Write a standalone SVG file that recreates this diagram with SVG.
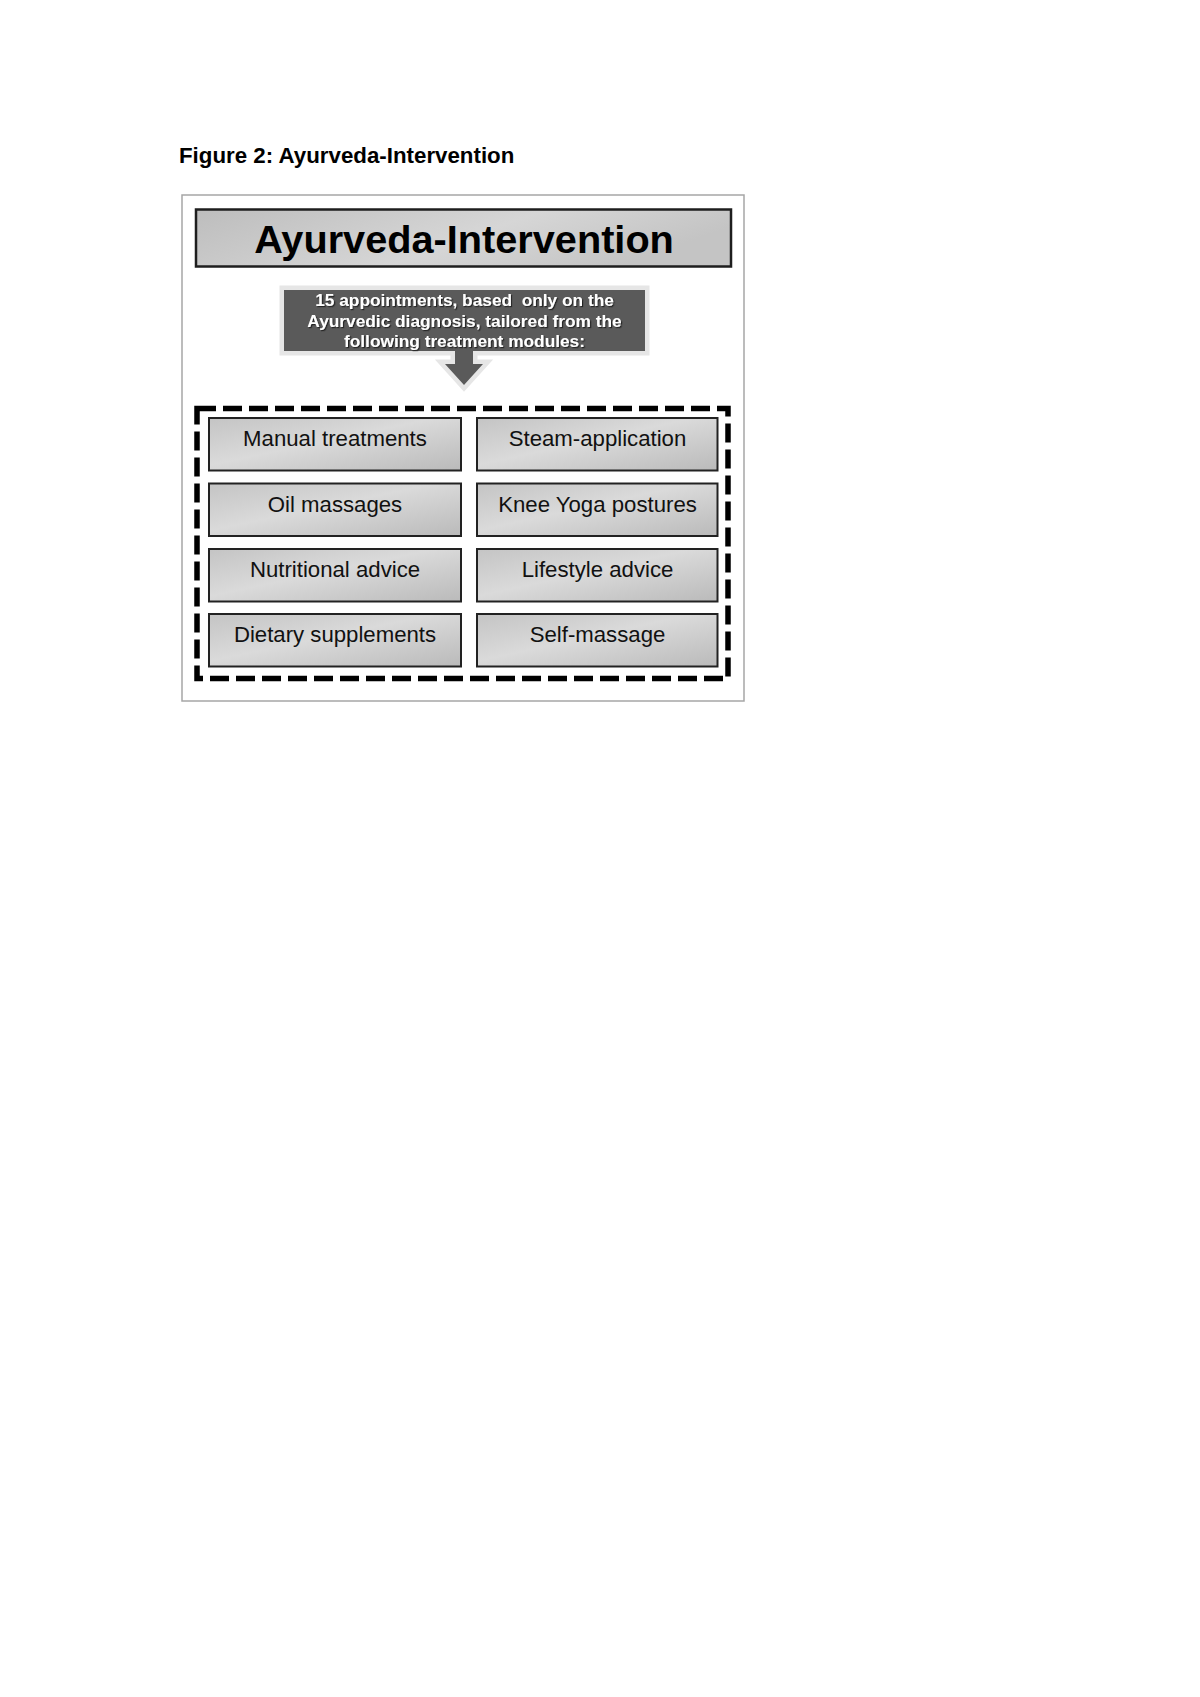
<svg xmlns="http://www.w3.org/2000/svg" width="1200" height="1697" viewBox="0 0 1200 1697">
  <defs>
    <linearGradient id="boxGrad" x1="0" y1="0" x2="1" y2="1">
      <stop offset="0" stop-color="#c4c4c4"/>
      <stop offset="0.45" stop-color="#dadada"/>
      <stop offset="1" stop-color="#bababa"/>
    </linearGradient>
    <linearGradient id="titleGrad" x1="0" y1="0" x2="1" y2="0.3">
      <stop offset="0" stop-color="#bdbdbd"/>
      <stop offset="0.6" stop-color="#d6d6d6"/>
      <stop offset="1" stop-color="#c4c4c4"/>
    </linearGradient>
    <filter id="txtShadow" x="-5%" y="-30%" width="110%" height="160%">
      <feDropShadow dx="1.2" dy="1.2" stdDeviation="0.7" flood-color="#1a1a1a" flood-opacity="0.9"/>
    </filter>
  </defs>
  <style>
    .caption { font-family: "Liberation Sans", Arial, sans-serif; font-weight: bold; font-size: 22.3px; fill: #000; }
    .frame { fill: #ffffff; stroke: #a6a6a6; stroke-width: 1.5; }
    .titlebox { fill: url(#titleGrad); stroke: #1e1e1e; stroke-width: 2.5; }
    .titletxt { font-family: "Liberation Sans", Arial, sans-serif; font-weight: bold; font-size: 39.7px; fill: #000; text-anchor: middle; }
    .note { fill: #5a5a5a; stroke: #e6e6e6; stroke-width: 9; stroke-linejoin: miter; paint-order: stroke; }
    .notetxt { font-family: "Liberation Sans", Arial, sans-serif; font-weight: bold; font-size: 17.3px; fill: #ffffff; text-anchor: middle; filter: url(#txtShadow); }
    .dashed { fill: none; stroke: #000; stroke-width: 5.5; stroke-dasharray: 19 7; }
    .mod { fill: url(#boxGrad); stroke: #222; stroke-width: 2; }
    .modtxt { font-family: "Liberation Sans", Arial, sans-serif; font-size: 22.2px; fill: #111; text-anchor: middle; }
  </style>

  <text class="caption" x="179" y="163">Figure 2: Ayurveda-Intervention</text>

  <rect class="frame" x="182" y="195" width="562" height="506"/>

  <g id="title">
    <rect class="titlebox" x="196" y="209.5" width="535" height="57"/>
    <text class="titletxt" x="464" y="253">Ayurveda-Intervention</text>
  </g>

  <g id="note">
    <path class="note" d="M284,290 H645 V351 H473 V364 H483 L464,385 L445,364 H455 V351 H284 Z"/>
    <text class="notetxt" x="464.5" y="306" xml:space="preserve">15 appointments, based  only on the</text>
    <text class="notetxt" x="464.5" y="327">Ayurvedic diagnosis, tailored from the</text>
    <text class="notetxt" x="464.5" y="347">following treatment modules:</text>
  </g>

  <g id="connectors">
    <rect class="dashed" x="197" y="408.5" width="531" height="270"/>
  </g>

  <g id="manual-treatments">
    <rect class="mod" x="209" y="418" width="252" height="52.5"/>
    <text class="modtxt" x="335" y="446">Manual treatments</text>
  </g>
  <g id="steam-application">
    <rect class="mod" x="477" y="418" width="240.5" height="52.5"/>
    <text class="modtxt" x="597.5" y="446">Steam-application</text>
  </g>
  <g id="oil-massages">
    <rect class="mod" x="209" y="483.5" width="252" height="52.5"/>
    <text class="modtxt" x="335" y="511.5">Oil massages</text>
  </g>
  <g id="knee-yoga-postures">
    <rect class="mod" x="477" y="483.5" width="240.5" height="52.5"/>
    <text class="modtxt" x="597.5" y="511.5">Knee Yoga postures</text>
  </g>
  <g id="nutritional-advice">
    <rect class="mod" x="209" y="549" width="252" height="52.5"/>
    <text class="modtxt" x="335" y="576.5">Nutritional advice</text>
  </g>
  <g id="lifestyle-advice">
    <rect class="mod" x="477" y="549" width="240.5" height="52.5"/>
    <text class="modtxt" x="597.5" y="576.5">Lifestyle advice</text>
  </g>
  <g id="dietary-supplements">
    <rect class="mod" x="209" y="614" width="252" height="52.5"/>
    <text class="modtxt" x="335" y="642">Dietary supplements</text>
  </g>
  <g id="self-massage">
    <rect class="mod" x="477" y="614" width="240.5" height="52.5"/>
    <text class="modtxt" x="597.5" y="642">Self-massage</text>
  </g>
</svg>
